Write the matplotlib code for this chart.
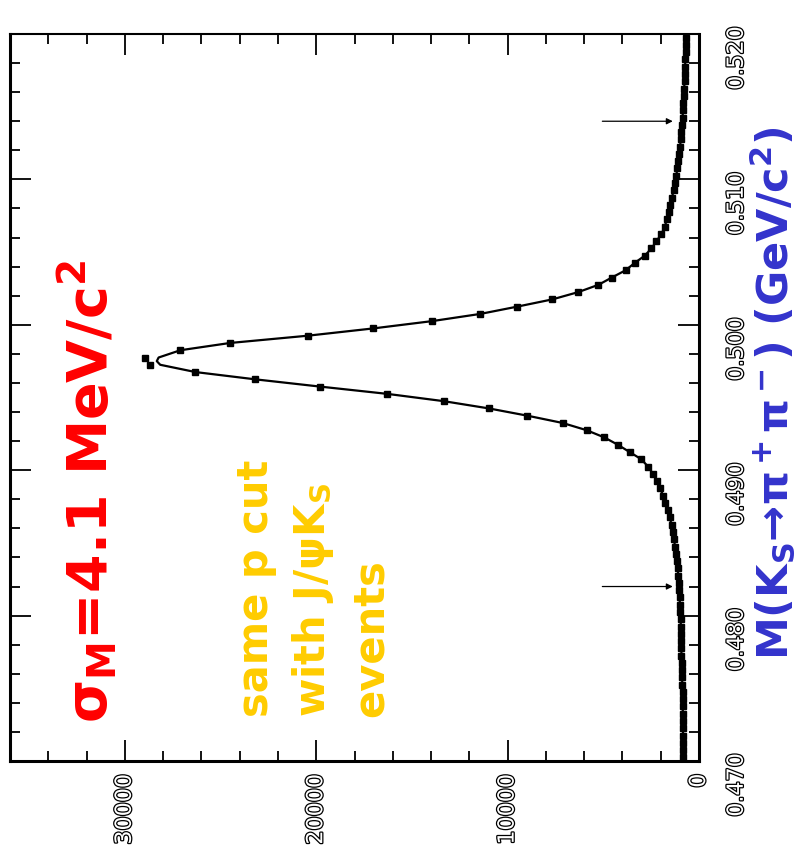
import numpy as np
import matplotlib
matplotlib.use("Agg")
import matplotlib.pyplot as plt
import matplotlib.patheffects as pe
from matplotlib.ticker import MultipleLocator, FuncFormatter

# K_S -> pi+ pi- invariant mass, 100 bins of 0.5 MeV between 0.470 and 0.520 GeV
mass_lo = 0.470
bin_width = 0.0005
counts = [825, 826, 829, 832, 836, 840, 844, 848, 852, 857,
          870, 885, 897, 909, 915, 922, 930, 938, 946, 960,
          975, 995, 1015, 1035, 1060, 1085, 1110, 1140, 1190, 1250,
          1310, 1370, 1435, 1530, 1640, 1760, 1876, 2030, 2200, 2402,
          2664, 3011, 3626, 4241, 4940, 5870, 7131, 8970, 10983, 13348,
          16290, 19796, 23190, 26312, 28677, 28939, 27100, 24505, 20442, 17026,
          13962, 11419, 9496, 7656, 6306, 5255, 4556, 3836, 3363, 2838,
          2486, 2223, 1960, 1787, 1680, 1580, 1490, 1410, 1330, 1250,
          1190, 1130, 1080, 1030, 990, 950, 915, 885, 860, 835,
          815, 795, 775, 755, 740, 725, 712, 700, 690, 680]

# fit curve follows the points except at the very top of the peak
fit_peak_mass = [0.49725, 0.4975, 0.49775]
fit_peak_counts = [28150, 28330, 28235]

# signal window arrows
arrow_mass = [0.482, 0.514]
arrow_from = 5050
arrow_to = 1370

plt.rcParams['mathtext.fontset'] = 'dejavusans'
plt.rcParams['mathtext.default'] = 'bf'

W, H = 802, 857
fig = plt.figure(figsize=(W / 100, H / 100), dpi=100)
ax = fig.add_axes([10 / W, 1 - 761 / H, 689 / W, 727 / H])

mass = mass_lo + bin_width * (np.arange(len(counts)) + 0.5)
counts = np.array(counts, dtype=float)

fit_m = list(mass[:54]) + fit_peak_mass + list(mass[56:])
fit_c = list(counts[:54]) + fit_peak_counts + list(counts[56:])
ax.plot(fit_c, fit_m, color='black', lw=1.6, zorder=2)
ax.plot(counts, mass, 's', color='black', ms=3.8, zorder=3)

for m in arrow_mass:
    ax.annotate('', xy=(arrow_to, m), xytext=(arrow_from, m),
                arrowprops=dict(arrowstyle='-|>', lw=0.9, color='black',
                                mutation_scale=9, shrinkA=0, shrinkB=0))

ax.set_xlim(36000, 0)
ax.set_ylim(0.470, 0.520)
ax.xaxis.set_major_locator(MultipleLocator(10000))
ax.xaxis.set_minor_locator(MultipleLocator(2000))
ax.yaxis.set_major_locator(MultipleLocator(0.01))
ax.yaxis.set_minor_locator(MultipleLocator(0.002))
ax.xaxis.set_major_formatter(FuncFormatter(lambda v, p: '%d' % round(v)))
ax.yaxis.set_major_formatter(FuncFormatter(lambda v, p: '%.3f' % v))

ax.tick_params(which='both', direction='in', top=True, bottom=True,
               left=True, right=True, width=1.3, color='black')
ax.tick_params(which='major', length=15)
ax.tick_params(which='minor', length=7)
ax.tick_params(axis='x', labelrotation=90, labelsize=16, pad=9)
ax.tick_params(axis='y', labelleft=False, labelright=True,
               labelrotation=90, labelsize=16, pad=20)
for lab in ax.get_xticklabels() + ax.get_yticklabels():
    lab.set_color('white')
    lab.set_path_effects([pe.withStroke(linewidth=1.8, foreground='black')])

for s in ax.spines.values():
    s.set_linewidth(2.2)
ax.spines['top'].set_linewidth(1.5)


def ftext(x, y, s, **kw):
    fig.text(x / W, 1 - y / H, s, rotation=90, rotation_mode='anchor',
             ha='left', va='baseline', fontweight='bold', **kw)


ftext(108, 723, r'σ$_M$=4.1 MeV/c$^2$', color='#ff0000', fontsize=40)

ftext(268, 717, 'same p cut', color='#ffcc00', fontsize=30)
ftext(325, 717, r'with J/ψK$_S$', color='#ffcc00', fontsize=30)
ftext(383, 717, 'events', color='#ffcc00', fontsize=30)

ftext(788, 660, r'M(K$_S$→π$^+$π$^-$) (GeV/c$^2$)', color='#3333cc', fontsize=31)

fig.savefig('out.png', dpi=100)
